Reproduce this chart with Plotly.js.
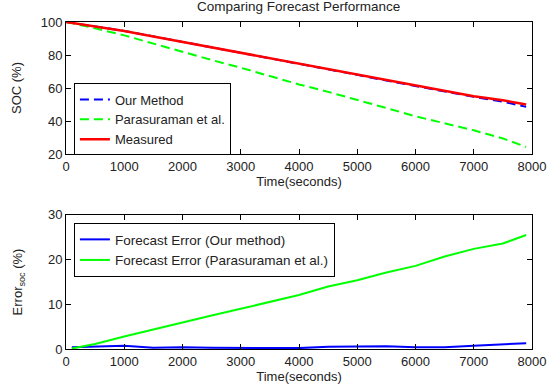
<!DOCTYPE html>
<html><head><meta charset="utf-8">
<script src="https://cdn.plot.ly/plotly-3.0.1.min.js"></script>
<style>html,body{margin:0;padding:0;background:#fff}#chart{width:555px;height:391px}</style>
</head><body><div id="chart"></div>
<script>
var timeTop = [0, 500, 1000, 1500, 2000, 2500, 3000, 3500, 4000, 4500, 5000, 5500, 6000, 6500, 7000, 7500, 7900];
var measured = [100, 97.3, 94.5, 91.2, 87.9, 84.6, 81.4, 78.1, 74.9, 71.6, 68.2, 64.8, 61.5, 58.3, 55.1, 52.6, 50.0];
var ourMethod = [100, 97.4, 94.6, 91.3, 88.0, 84.7, 81.5, 78.2, 74.8, 71.4, 68.0, 64.5, 61.2, 58.0, 54.7, 51.8, 48.6];
var parasuraman = [100, 96.2, 91.9, 86.8, 81.8, 77.0, 72.3, 67.2, 62.2, 57.7, 53.0, 47.9, 42.9, 38.6, 34.4, 29.5, 24.3];

var timeErr = [100, 500, 1000, 1500, 2000, 2500, 3000, 3500, 4000, 4500, 5000, 5500, 6000, 6500, 7000, 7500, 7900];
var errOurs = [0.4, 0.6, 0.7, 0.3, 0.4, 0.3, 0.3, 0.3, 0.2, 0.5, 0.6, 0.6, 0.4, 0.4, 0.7, 1.0, 1.3];
var errPara = [0.1, 1.1, 2.8, 4.4, 6.0, 7.5, 9.0, 10.5, 12.1, 14.0, 15.4, 17.1, 18.6, 20.7, 22.4, 23.6, 25.5];

var xTicks = [0, 1000, 2000, 3000, 4000, 5000, 6000, 7000, 8000];
var yTopTicks = [20, 40, 60, 80, 100];
var yBotTicks = [0, 10, 20, 30];

var F = 'Liberation Sans, Arial, sans-serif';
var FS = 13;
var traces = [
  {x: timeTop, y: ourMethod, name: 'Our Method', mode: 'lines', line: {color: '#0000ff', width: 2, dash: '9px,5px'}, xaxis: 'x', yaxis: 'y', legend: 'legend'},
  {x: timeTop, y: parasuraman, name: 'Parasuraman et al.', mode: 'lines', line: {color: '#00ff00', width: 2, dash: '9px,5px'}, xaxis: 'x', yaxis: 'y', legend: 'legend'},
  {x: timeTop, y: measured, name: 'Measured', mode: 'lines', line: {color: '#ff0000', width: 2.5}, xaxis: 'x', yaxis: 'y', legend: 'legend'},
  {x: timeErr, y: errOurs, name: 'Forecast Error (Our method)', mode: 'lines', line: {color: '#0000ff', width: 2}, xaxis: 'x2', yaxis: 'y2', legend: 'legend2'},
  {x: timeErr, y: errPara, name: 'Forecast Error (Parasuraman et al.)', mode: 'lines', line: {color: '#00ff00', width: 2}, xaxis: 'x2', yaxis: 'y2', legend: 'legend2'}
];

function ax(extra) {
  var base = {showline: true, linecolor: '#000', linewidth: 1, mirror: 'ticks', ticks: 'inside', ticklen: 5, tickcolor: '#000',
    showgrid: false, zeroline: false, tickfont: {family: F, size: FS, color: '#222'}};
  for (var k in extra) base[k] = extra[k];
  return base;
}

var layout = {
  width: 555, height: 391,
  margin: {l: 66, r: 23, t: 22, b: 42},
  paper_bgcolor: '#fff', plot_bgcolor: '#fff',
  font: {family: F, size: FS, color: '#222'},
  title: {text: 'Comparing Forecast Performance', font: {family: F, size: 13.5, color: '#222'}, x: 0.538, xanchor: 'center', y: 0.985, yanchor: 'middle'},
  xaxis: ax({domain: [0, 1], range: [0, 8000], tickvals: xTicks, anchor: 'y',
    title: {text: 'Time(seconds)', font: {family: F, size: FS, color: '#222'}, standoff: 3}}),
  yaxis: ax({domain: [0.596, 1], range: [20, 100], tickvals: yTopTicks, anchor: 'x',
    title: {text: 'SOC (%)', font: {family: F, size: FS, color: '#222'}, standoff: 16}}),
  xaxis2: ax({domain: [0, 1], range: [0, 8000], tickvals: xTicks, anchor: 'y2',
    title: {text: 'Time(seconds)', font: {family: F, size: FS, color: '#222'}, standoff: 3}}),
  yaxis2: ax({domain: [0, 0.41], range: [0, 30], tickvals: yBotTicks, anchor: 'x2',
    title: {text: 'Error<sub>soc</sub> (%)', font: {family: F, size: FS, color: '#222'}, standoff: 22}}),
  legend: {x: 0.017, y: 0.812, xanchor: 'left', yanchor: 'top', bgcolor: '#fff', bordercolor: '#000', borderwidth: 1,
    font: {family: F, size: 13, color: '#222'}, tracegroupgap: 0},
  legend2: {x: 0.017, y: 0.385, xanchor: 'left', yanchor: 'top', bgcolor: '#fff', bordercolor: '#000', borderwidth: 1,
    font: {family: F, size: 13.5, color: '#222'}, tracegroupgap: 0},
  showlegend: true
};

Plotly.newPlot('chart', traces, layout, {displayModeBar: false, staticPlot: true});
</script>
</body></html>
